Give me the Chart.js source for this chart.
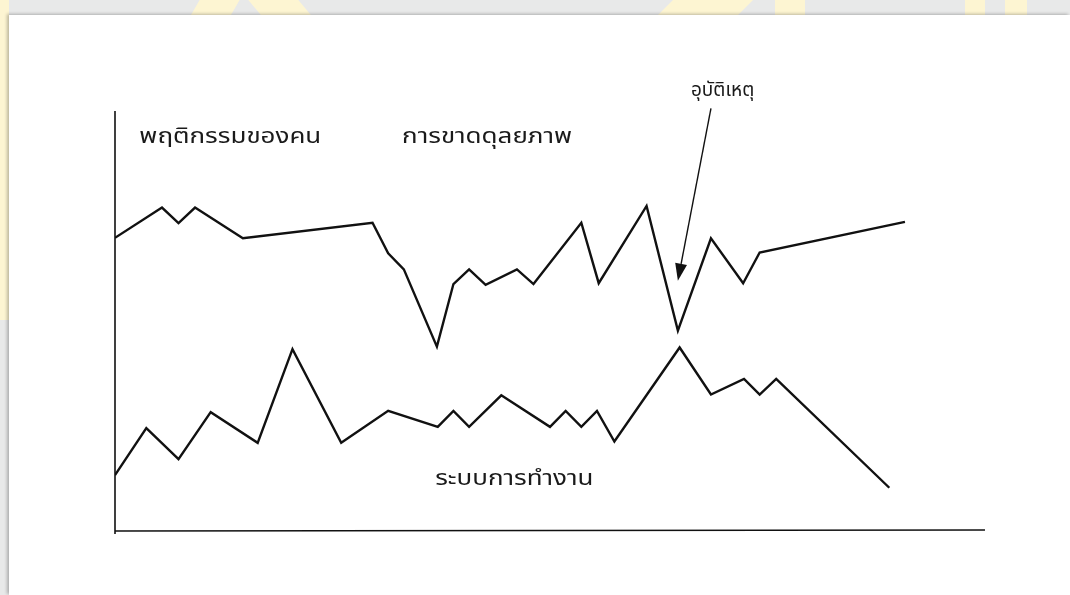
<!DOCTYPE html>
<html lang="th">
<head>
<meta charset="utf-8">
<title>ระบบการทำงาน</title>
<script src="https://cdn.jsdelivr.net/npm/chart.js@4.4.1/dist/chart.umd.min.js"></script>
<style>
  html, body { margin: 0; padding: 0; }
  body { width: 1070px; height: 595px; background: #e8e9e9; position: relative; overflow: hidden; }
  .wm { position: absolute; background: #fdf5d2; }
  .paper {
    position: absolute; left: 9px; top: 15px; width: 1061px; height: 580px;
    background: #fff; box-shadow: -2px -1px 3px rgba(0,0,0,.25);
  }
  .paper canvas { position: absolute; left: -9px; top: -15px; }
</style>
</head>
<body>
  <!-- yellow watermark bits peeking around the page -->
  <div class="wm" style="left:0;top:0;width:9px;height:320px"></div>
  <div class="wm" style="left:195px;top:0;width:40px;height:16px;transform:skewX(-30deg)"></div>
  <div class="wm" style="left:255px;top:0;width:50px;height:16px;transform:skewX(40deg)"></div>
  <div class="wm" style="left:665px;top:0;width:80px;height:16px;transform:skewX(-45deg)"></div>
  <div class="wm" style="left:775px;top:0;width:30px;height:16px"></div>
  <div class="wm" style="left:965px;top:0;width:20px;height:16px"></div>
  <div class="wm" style="left:1005px;top:0;width:22px;height:16px"></div>

  <div class="paper">
    <canvas id="c" width="1070" height="595"></canvas>
  </div>

<script>
// x = time, y = level (arbitrary units)
const peopleX = [0, 5.4, 7.3, 9.2, 14.7, 29.6, 31.4, 33.2, 37.0, 38.9, 40.7, 42.6, 46.2, 48.1, 53.6, 55.6, 61.1, 64.7, 68.5, 72.2, 74.1, 90.8];
const peopleY = [69.8, 77.0, 73.3, 77.0, 69.7, 73.4, 66.1, 62.3, 43.9, 58.8, 62.3, 58.6, 62.3, 58.8, 73.4, 59.0, 77.4, 47.7, 69.7, 59.0, 66.3, 73.6];

const workX = [0, 3.6, 7.3, 11.0, 16.4, 20.4, 26.0, 31.4, 37.1, 38.9, 40.7, 44.4, 50.0, 51.8, 53.6, 55.4, 57.4, 64.9, 68.5, 72.3, 74.1, 76.0, 89.0];
const workY = [13.3, 24.5, 17.1, 28.3, 21.0, 43.3, 21.0, 28.6, 24.8, 28.6, 24.8, 32.3, 24.8, 28.6, 24.8, 28.6, 21.3, 43.7, 32.5, 36.2, 32.5, 36.2, 10.3];

const labels = ['พฤติกรรมของคน', 'การขาดดุลยภาพ', 'อุบัติเหตุ', 'ระบบการทำงาน'];
const labelAt = [[2.8, 92.5], [33.0, 92.5], [66.2, 103.6], [36.8, 11.0]];

// arrow from the "อุบัติเหตุ" label down to the dip
const arrowFrom = [68.5, 100.6];
const arrowTo = [64.7, 59.6];

const pts = (xs, ys) => xs.map((x, i) => ({ x, y: ys[i] }));

const decor = {
  id: 'decor',
  afterDatasetsDraw(chart) {
    const { ctx, chartArea: a, scales: { x, y } } = chart;
    ctx.save();
    // axes
    ctx.strokeStyle = '#111';
    ctx.lineWidth = 1.6;
    ctx.beginPath();
    ctx.moveTo(a.left, a.top);
    ctx.lineTo(a.left, a.bottom + 3);
    ctx.moveTo(a.left, a.bottom);
    ctx.lineTo(a.right, a.bottom - 1);
    ctx.stroke();

    // arrow
    const x0 = x.getPixelForValue(arrowFrom[0]), y0 = y.getPixelForValue(arrowFrom[1]);
    const x1 = x.getPixelForValue(arrowTo[0]), y1 = y.getPixelForValue(arrowTo[1]);
    const ang = Math.atan2(y1 - y0, x1 - x0);
    const hl = 17, hw = 6;
    const bx = x1 - hl * Math.cos(ang), by = y1 - hl * Math.sin(ang);
    ctx.lineWidth = 1.4;
    ctx.beginPath();
    ctx.moveTo(x0, y0);
    ctx.lineTo(bx, by);
    ctx.stroke();
    ctx.fillStyle = '#111';
    ctx.beginPath();
    ctx.moveTo(x1, y1);
    ctx.lineTo(bx + hw * Math.sin(ang), by - hw * Math.cos(ang));
    ctx.lineTo(bx - hw * Math.sin(ang), by + hw * Math.cos(ang));
    ctx.closePath();
    ctx.fill();

    // labels (the scan's Thai face is tall and wide, so stretch a little)
    ctx.textBaseline = 'alphabetic';
    ctx.fillStyle = '#1a1a1a';
    labels.forEach((t, i) => {
      const px = x.getPixelForValue(labelAt[i][0]), py = y.getPixelForValue(labelAt[i][1]);
      const size = i === 2 ? 19 : 22;
      const sx = i === 2 ? 1 : 1.18;
      ctx.save();
      ctx.translate(px, py);
      ctx.scale(sx, 1);
      ctx.font = size + 'px "Noto Sans Thai", "Noto Sans", "DejaVu Sans", sans-serif';
      ctx.fillText(t, 0, 0);
      ctx.restore();
    });
    ctx.restore();
  }
};

new Chart(document.getElementById('c'), {
  type: 'line',
  data: {
    datasets: [
      { label: 'พฤติกรรมของคน', data: pts(peopleX, peopleY) },
      { label: 'ระบบการทำงาน', data: pts(workX, workY) }
    ]
  },
  options: {
    responsive: false,
    animation: false,
    layout: { padding: { left: 115, right: 85, top: 111, bottom: 64 } },
    elements: {
      line: { borderColor: '#111', borderWidth: 2.4, tension: 0, borderJoinStyle: 'miter' },
      point: { radius: 0 }
    },
    scales: {
      x: { type: 'linear', min: 0, max: 100, display: false },
      y: { min: 0, max: 100, display: false }
    },
    plugins: { legend: { display: false }, tooltip: { enabled: false } }
  },
  plugins: [decor]
});
</script>
</body>
</html>
